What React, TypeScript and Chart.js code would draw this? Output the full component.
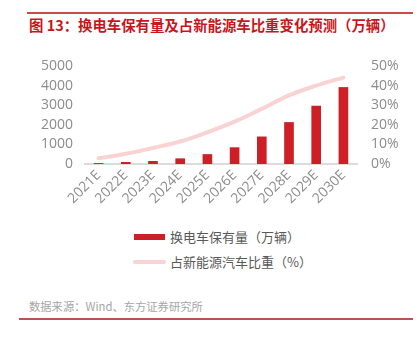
import React, { useEffect, useRef } from "react";
import { Chart, registerables } from "chart.js";

Chart.register(...registerables);

const categories = ["2021E", "2022E", "2023E", "2024E", "2025E", "2026E", "2027E", "2028E", "2029E", "2030E"];
const stockValues = [30, 85, 135, 270, 485, 835, 1385, 2120, 2955, 3905];
const shareValues = [2.9, 5.2, 8.2, 11.5, 16.2, 21.6, 28.1, 35.0, 40.0, 44.1];
const leftTicks = [0, 1000, 2000, 3000, 4000, 5000];
const rightTicks = [0, 10, 20, 30, 40, 50];

const title = "图 13：换电车保有量及占新能源车比重变化预测（万辆）";
const barLabel = "换电车保有量（万辆）";
const lineLabel = "占新能源汽车比重（%）";
const source = "数据来源：Wind、东方证券研究所";

const FONT = "'Noto Sans CJK SC', 'Liberation Sans', sans-serif";
const TICK_FONT = "'Open Sans', 'Noto Sans CJK SC', sans-serif";
const BAR_COLOR = "#CD1F25";
const LINE_COLOR = "#F9D3D3";
const TICK_COLOR = "#8C8C8C";

export default function App() {
  const ref = useRef<HTMLCanvasElement | null>(null);

  useEffect(() => {
    if (!ref.current) return;
    const chart = new Chart(ref.current, {
      data: {
        labels: categories,
        datasets: [
          {
            type: "line",
            label: lineLabel,
            data: shareValues,
            yAxisID: "y1",
            borderColor: LINE_COLOR,
            backgroundColor: LINE_COLOR,
            borderWidth: 4,
            borderCapStyle: "round",
            pointRadius: 0,
            tension: 0.4,
            order: 0,
          },
          {
            type: "bar",
            label: barLabel,
            data: stockValues,
            yAxisID: "y",
            backgroundColor: BAR_COLOR,
            barThickness: 9,
            order: 1,
          },
        ],
      },
      options: {
        animation: false,
        responsive: false,
        maintainAspectRatio: false,
        layout: { padding: { top: 26, bottom: 0, left: 0, right: 0 } },
        plugins: { legend: { display: false }, tooltip: { enabled: false } },
        scales: {
          x: {
            grid: { display: false, drawTicks: false },
            border: { display: true, color: "#DCDCDC", width: 2 },
            ticks: {
              color: TICK_COLOR,
              font: { family: TICK_FONT, size: 14 },
              maxRotation: 45,
              minRotation: 45,
              padding: 3,
              autoSkip: false,
            },
            afterFit: (s: any) => {
              s.height = 56;
            },
          },
          y: {
            position: "left",
            min: 0,
            max: 5000,
            grid: { display: false, drawTicks: false },
            border: { display: false },
            afterBuildTicks: (s: any) => {
              s.ticks = leftTicks.map((v) => ({ value: v }));
            },
            ticks: {
              color: TICK_COLOR,
              font: { family: TICK_FONT, size: 14 },
              padding: 12,
              autoSkip: false,
              callback: (v: any) => String(v),
            },
            afterFit: (s: any) => {
              s.width = 85;
            },
          },
          y1: {
            position: "right",
            min: 0,
            max: 50,
            grid: { display: false, drawTicks: false },
            border: { display: false },
            afterBuildTicks: (s: any) => {
              s.ticks = rightTicks.map((v) => ({ value: v }));
            },
            ticks: {
              color: TICK_COLOR,
              font: { family: TICK_FONT, size: 14 },
              padding: 14,
              autoSkip: false,
              callback: (v: any) => `${v}%`,
            },
            afterFit: (s: any) => {
              s.width = 63;
            },
          },
        },
      },
    } as any);
    return () => chart.destroy();
  }, []);

  return (
    <div
      style={{
        position: "absolute",
        left: 0,
        top: 0,
        width: 420,
        height: 340,
        background: "#fff",
        fontFamily: FONT,
        overflow: "hidden",
      }}
    >
      <div style={{ position: "absolute", left: 27, top: 12, width: 386, height: 2, background: "#D0484B" }} />
      <div
        style={{
          position: "absolute",
          left: 29,
          top: 15,
          fontSize: 14.4,
          fontWeight: 700,
          color: "#C8161D",
          whiteSpace: "nowrap",
          lineHeight: "20px",
        }}
      >
        {title}
      </div>
      <canvas ref={ref} width={420} height={180} style={{ position: "absolute", left: 0, top: 40, width: 420, height: 180 }} />
      <div style={{ position: "absolute", left: 134, top: 234, width: 31, height: 6, background: BAR_COLOR }} />
      <div
        style={{
          position: "absolute",
          left: 170,
          top: 228,
          fontSize: 13,
          color: "#595959",
          lineHeight: "18px",
          whiteSpace: "nowrap",
        }}
      >
        {barLabel}
      </div>
      <div style={{ position: "absolute", left: 133, top: 260, width: 33, height: 4, borderRadius: 2, background: LINE_COLOR }} />
      <div
        style={{
          position: "absolute",
          left: 170,
          top: 253,
          fontSize: 13,
          color: "#595959",
          lineHeight: "18px",
          whiteSpace: "nowrap",
        }}
      >
        {lineLabel}
      </div>
      <div
        style={{
          position: "absolute",
          left: 29,
          top: 298,
          fontSize: 11.3,
          color: "#A6A6A6",
          lineHeight: "16px",
          whiteSpace: "nowrap",
        }}
      >
        {source}
      </div>
      <div style={{ position: "absolute", left: 19, top: 318, width: 394, height: 1.5, background: "#C0504D" }} />
    </div>
  );
}
